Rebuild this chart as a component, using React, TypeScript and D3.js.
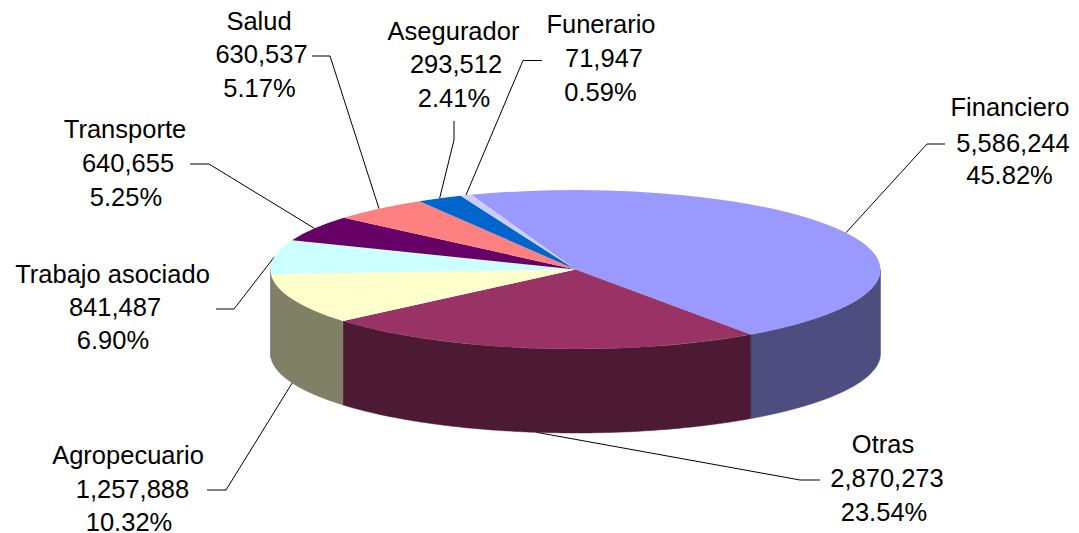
import * as d3 from "d3";

const WIDTH = 1079;
const HEIGHT = 533;

// values as printed on the chart labels
const sectors = ["Financiero", "Otras", "Agropecuario", "Trabajo asociado", "Transporte", "Salud", "Asegurador", "Funerario"];
const values = [5586244, 2870273, 1257888, 841487, 640655, 630537, 293512, 71947];
const percents = ["45.82%", "23.54%", "10.32%", "6.90%", "5.25%", "5.17%", "2.41%", "0.59%"];

const topColors = ["#9999ff", "#993366", "#ffffcc", "#ccffff", "#660066", "#ff8080", "#0066cc", "#ccccff"];
const sideColors = ["#4d4d80", "#4d1a33", "#808066", "#668080", "#330033", "#804040", "#003366", "#666680"];

// label lines (centre x, centre y) and leader start + elbow, read per label
const labelLayout = [
  { xs: [1010, 1013, 1009.5], ys: [107, 143, 175], from: [945, 144], elbow: [927, 144] },
  { xs: [883, 887, 884], ys: [444, 478, 512], from: [820, 480], elbow: [800, 480] },
  { xs: [128, 132.5, 129], ys: [455, 489, 522], from: [207, 490], elbow: [226, 490] },
  { xs: [112.5, 115, 113], ys: [274, 307, 340], from: [216, 309], elbow: [234, 309] },
  { xs: [125, 128, 126], ys: [129, 163, 197], from: [190, 164], elbow: [209, 164] },
  { xs: [259, 261.5, 259.5], ys: [21, 54, 88], from: [312, 56], elbow: [330, 56] },
  { xs: [453.5, 456, 454], ys: [31, 64, 98], from: [454, 121], elbow: [454, 140] },
  { xs: [601, 604, 600.5], ys: [24, 58, 92], from: [542, 60.5], elbow: [523, 60.5] },
];

const CX = 575.5;
const CY = 269.5;
const RX = 305;
const RY = 79.5;
const DEPTH = 84;
const START = (-20 * Math.PI) / 180;

const rimX = (a: number) => CX + RX * Math.sin(a);
const rimY = (a: number) => CY - RY * Math.cos(a);

const fmt = d3.format(",");

export default function App() {
  const slices = d3
    .pie<number>()
    .sort(null)
    .startAngle(START)
    .endAngle(START + 2 * Math.PI)(values);

  const arc = d3.arc<d3.PieArcDatum<number>>().innerRadius(0).outerRadius(RX);

  // front wall: only the part of each slice between 90 and 270 degrees shows
  const wall = d3
    .area<number>()
    .x((a) => rimX(a))
    .y0((a) => rimY(a))
    .y1((a) => rimY(a) + DEPTH);

  const walls = slices.map((s, i) => {
    const a0 = Math.max(s.startAngle, Math.PI / 2);
    const a1 = Math.min(s.endAngle, (3 * Math.PI) / 2);
    if (a1 <= a0) return null;
    const angles = [...d3.range(a0, a1, 0.01), a1];
    return <path key={i} d={wall(angles) ?? ""} fill={sideColors[i]} stroke={sideColors[i]} strokeWidth={0.5} />;
  });

  const leaders = slices.map((s, i) => {
    const mid = (s.startAngle + s.endAngle) / 2;
    const front = Math.cos(mid) < 0;
    const l = labelLayout[i];
    const end = [rimX(mid), rimY(mid) + (front ? DEPTH : 0)];
    return (
      <polyline
        key={i}
        points={[l.from, l.elbow, end].map((p) => p.join(",")).join(" ")}
        fill="none"
        stroke="#000"
        strokeWidth={1}
      />
    );
  });

  return (
    <svg
      width={WIDTH}
      height={HEIGHT}
      style={{ position: "absolute", left: 0, top: 0, background: "#fff" }}
      fontFamily="'Liberation Sans', Arial, sans-serif"
      fontSize={25.5}
      fill="#000"
    >
      {leaders}
      <g>{walls}</g>
      <g transform={`translate(${CX},${CY}) scale(1,${RY / RX})`}>
        {slices.map((s, i) => (
          <path key={i} d={arc(s) ?? ""} fill={topColors[i]} />
        ))}
      </g>
      {sectors.map((name, i) => {
        const l = labelLayout[i];
        const lines = [name, fmt(values[i]), percents[i]];
        return (
          <text key={name} textAnchor="middle" dominantBaseline="central">
            {lines.map((t, j) => (
              <tspan key={j} x={l.xs[j]} y={l.ys[j]}>{t}</tspan>
            ))}
          </text>
        );
      })}
    </svg>
  );
}
